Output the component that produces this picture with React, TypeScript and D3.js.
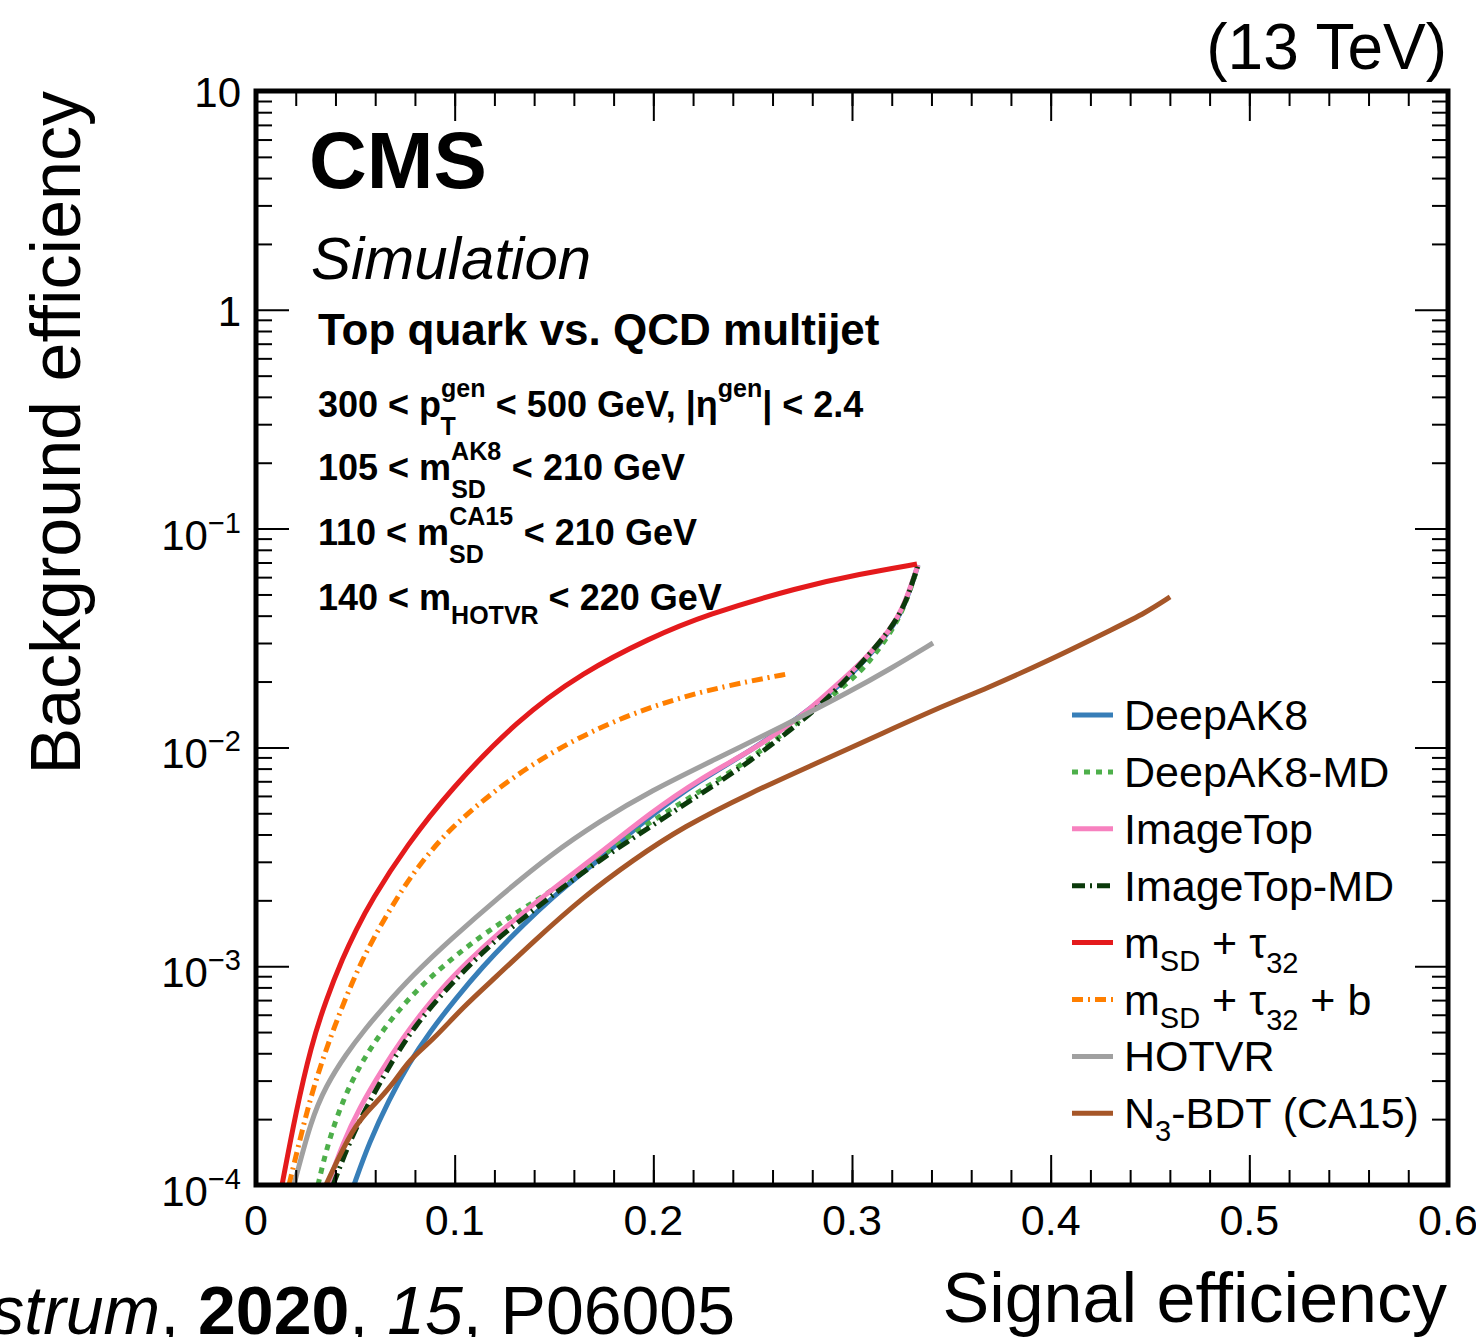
import React, { useRef, useEffect } from "react";
import * as d3 from "d3";

// ROC curves: [signal efficiency, background efficiency]
const deepAK8 = [
  [0.0493, 1.0e-4], [0.0569, 1.56e-4], [0.0669, 2.45e-4], [0.077, 3.61e-4], [0.0871, 4.95e-4],
  [0.1007, 7.15e-4], [0.1143, 1.0e-3], [0.1273, 1.33e-3], [0.1424, 1.81e-3], [0.156, 2.33e-3],
  [0.1732, 3.09e-3], [0.1983, 4.86e-3], [0.2235, 7.1e-3], [0.2487, 9.6e-3], [0.2738, 0.0138],
  [0.299, 0.0208], [0.3191, 0.0337], [0.3257, 0.0429], [0.3307, 0.0576], [0.3332, 0.0682],
];
const deepAK8MD = [
  [0.0312, 1.0e-4], [0.0362, 1.56e-4], [0.0438, 2.45e-4], [0.0518, 3.46e-4], [0.0604, 4.6e-4],
  [0.0705, 6.11e-4], [0.082, 7.95e-4], [0.0941, 1.0e-3], [0.1072, 1.25e-3], [0.1243, 1.61e-3],
  [0.148, 2.18e-3], [0.1732, 3.16e-3], [0.1983, 4.56e-3], [0.2235, 6.3e-3], [0.2487, 8.8e-3],
  [0.2738, 0.0133], [0.299, 0.0199], [0.3091, 0.0248], [0.3191, 0.033], [0.3257, 0.0425],
  [0.3307, 0.057], [0.3332, 0.0675],
];
const imageTop = [
  [0.0362, 1.0e-4], [0.0438, 1.56e-4], [0.0518, 2.23e-4], [0.0639, 3.42e-4], [0.074, 4.7e-4],
  [0.0841, 6.24e-4], [0.0941, 8.03e-4], [0.1057, 1.03e-3], [0.1208, 1.39e-3], [0.148, 2.21e-3],
  [0.1732, 3.29e-3], [0.1983, 5.01e-3], [0.2235, 7.2e-3], [0.2487, 9.6e-3], [0.2653, 0.0121],
  [0.2789, 0.015], [0.2904, 0.0186], [0.3075, 0.0257], [0.3191, 0.0344], [0.3257, 0.0434],
  [0.3307, 0.0582], [0.3332, 0.0682],
];
const imageTopMD = [
  [0.0388, 1.0e-4], [0.0468, 1.56e-4], [0.0574, 2.45e-4], [0.069, 3.73e-4], [0.0795, 5.27e-4],
  [0.0966, 8.03e-4], [0.1153, 1.19e-3], [0.1268, 1.46e-3], [0.148, 2.07e-3], [0.1716, 3.0e-3],
  [0.1983, 4.33e-3], [0.2235, 6.1e-3], [0.2487, 8.6e-3], [0.2738, 0.013], [0.2904, 0.0175],
  [0.3156, 0.031], [0.3257, 0.0425], [0.3307, 0.0576], [0.3332, 0.0682],
];
const msdTau32 = [
  [0.0131, 1.0e-4], [0.0201, 2.16e-4], [0.0277, 4.32e-4], [0.0352, 7.0e-4], [0.0438, 1.1e-3],
  [0.0503, 1.46e-3], [0.0579, 1.99e-3], [0.076, 3.58e-3], [0.0977, 6.39e-3], [0.1314, 0.01334],
  [0.1646, 0.0221], [0.1983, 0.0316], [0.226, 0.0403], [0.2738, 0.0541], [0.304, 0.062],
  [0.3327, 0.0689],
];
const msdTau32B = [
  [0.0166, 1.0e-4], [0.0252, 2.11e-4], [0.0312, 3.25e-4], [0.0393, 5.27e-4], [0.0488, 8.65e-4],
  [0.0579, 1.29e-3], [0.072, 2.14e-3], [0.0825, 2.93e-3], [0.0977, 4.28e-3], [0.1228, 6.66e-3],
  [0.148, 9.43e-3], [0.1732, 0.01239], [0.1983, 0.01529], [0.2235, 0.01791], [0.2487, 0.02011],
  [0.2673, 0.02165],
];
const hotvr = [
  [0.0191, 1.0e-4], [0.0277, 1.98e-4], [0.0352, 2.84e-4], [0.0453, 3.97e-4], [0.0554, 5.22e-4],
  [0.0639, 6.44e-4], [0.079, 9.12e-4], [0.0977, 1.32e-3], [0.1228, 2.09e-3], [0.148, 3.22e-3],
  [0.1732, 4.61e-3], [0.1983, 6.3e-3], [0.232, 8.9e-3], [0.2653, 0.0125], [0.299, 0.018],
  [0.3191, 0.0228], [0.3408, 0.03],
];
const n3bdt = [
  [0.0352, 1.0e-4], [0.0403, 1.26e-4], [0.0503, 1.92e-4], [0.0604, 2.37e-4], [0.0705, 3.02e-4],
  [0.077, 3.73e-4], [0.0891, 4.6e-4], [0.1042, 6.51e-4], [0.1208, 8.93e-4], [0.1394, 1.29e-3],
  [0.1646, 2.07e-3], [0.1898, 3.06e-3], [0.2149, 4.33e-3], [0.2487, 6.19e-3], [0.2824, 8.49e-3],
  [0.3156, 0.01164], [0.3493, 0.01596], [0.3659, 0.01829], [0.3997, 0.0251], [0.4334, 0.0355],
  [0.4475, 0.0411], [0.4601, 0.0487],
];

const seriesData = [deepAK8, deepAK8MD, imageTop, imageTopMD, msdTau32, msdTau32B, hotvr, n3bdt];

// legend labels: [text, subscript?]
const legendLabels: [string, boolean][][] = [
  [["DeepAK8", false]],
  [["DeepAK8-MD", false]],
  [["ImageTop", false]],
  [["ImageTop-MD", false]],
  [["m", false], ["SD", true], [" + τ", false], ["32", true]],
  [["m", false], ["SD", true], [" + τ", false], ["32", true], [" + b", false]],
  [["HOTVR", false]],
  [["N", false], ["3", true], ["-BDT (CA15)", false]],
];

const lineColors = ["#377eb8", "#4daf4a", "#f781bf", "#0b3a0b", "#e41a1c", "#ff7f00", "#a0a0a0", "#a65628"];
const lineDashes = [null, "6,6", null, "13,5,2,5", null, "11,5,2,5", null, null];

const xMajorTicks = [0, 0.1, 0.2, 0.3, 0.4, 0.5, 0.6];
const xTickLabels = ["0", "0.1", "0.2", "0.3", "0.4", "0.5", "0.6"];
const yMajorTicks = [1e-4, 1e-3, 1e-2, 1e-1, 1, 10];
const yTickBase = ["10", "10", "10", "10", "1", "10"];
const yTickExp = ["−4", "−3", "−2", "−1", "", ""];

const FONT = "'Liberation Sans', Arial, Helvetica, sans-serif";

// parts: [text, dy, dx, fontSize]
const addRich = (parent, x, y, size, parts, weight = "normal") => {
  const t = parent.append("text")
    .attr("x", x).attr("y", y)
    .attr("font-size", size)
    .attr("font-weight", weight)
    .style("white-space", "pre");
  parts.forEach(([txt, dy, dx, fs]) => {
    const s = t.append("tspan").text(txt);
    if (dy) s.attr("dy", dy);
    if (dx) s.attr("dx", dx);
    if (fs) s.attr("font-size", fs);
  });
  return t;
};

const App = () => {
  const ref = useRef<SVGSVGElement>(null);

  useEffect(() => {
    const svg = d3.select(ref.current);
    svg.selectAll("*").remove();

    const x = d3.scaleLinear().domain([0, 0.6]).range([256, 1448]);
    const y = d3.scaleLog().domain([1e-4, 10]).range([1185, 91]);
    const [x0, x1] = x.range();
    const [y0, y1] = y.range();

    // curves
    const line = d3.line<number[]>()
      .x(d => x(d[0]))
      .y(d => y(d[1]))
      .curve(d3.curveBasis);

    svg.append("clipPath").attr("id", "plotClip")
      .append("rect").attr("x", x0).attr("y", y1).attr("width", x1 - x0).attr("height", y0 - y1);

    const curves = svg.append("g").attr("clip-path", "url(#plotClip)");
    seriesData.forEach((data, i) => {
      curves.append("path")
        .attr("d", line(data))
        .attr("fill", "none")
        .attr("stroke", lineColors[i])
        .attr("stroke-width", 5)
        .attr("stroke-linejoin", "round")
        .attr("stroke-dasharray", lineDashes[i]);
    });

    // ticks (inward on all four sides)
    const xMinor = d3.range(0, 31).map(k => k * 0.02);
    const yMinor = [];
    yMajorTicks.slice(0, -1).forEach(d => { for (let k = 2; k <= 9; k++) yMinor.push(d * k) });

    const tickAxis = (axis, tr) => {
      svg.append("g")
        .attr("transform", tr)
        .call(axis.tickFormat(() => ""))
        .call(g => g.select(".domain").remove())
        .call(g => g.selectAll("line").attr("stroke", "#000").attr("stroke-width", 2));
    };
    tickAxis(d3.axisTop(x).tickValues(xMinor).tickSize(15), `translate(0,${y0})`);
    tickAxis(d3.axisTop(x).tickValues(xMajorTicks).tickSize(30), `translate(0,${y0})`);
    tickAxis(d3.axisBottom(x).tickValues(xMinor).tickSize(15), `translate(0,${y1})`);
    tickAxis(d3.axisBottom(x).tickValues(xMajorTicks).tickSize(30), `translate(0,${y1})`);
    tickAxis(d3.axisRight(y).tickValues(yMinor).tickSize(16), `translate(${x0},0)`);
    tickAxis(d3.axisRight(y).tickValues(yMajorTicks).tickSize(33), `translate(${x0},0)`);
    tickAxis(d3.axisLeft(y).tickValues(yMinor).tickSize(16), `translate(${x1},0)`);
    tickAxis(d3.axisLeft(y).tickValues(yMajorTicks).tickSize(33), `translate(${x1},0)`);

    // frame
    svg.append("rect")
      .attr("x", x0).attr("y", y1).attr("width", x1 - x0).attr("height", y0 - y1)
      .attr("fill", "none").attr("stroke", "#000").attr("stroke-width", 5);

    // tick labels
    const labels = svg.append("g").attr("fill", "#000");
    xMajorTicks.forEach((v, i) => {
      labels.append("text")
        .attr("x", x(v)).attr("y", y0 + 50)
        .attr("text-anchor", "middle")
        .attr("font-size", 43)
        .text(xTickLabels[i]);
    });
    yMajorTicks.forEach((v, i) => {
      const t = labels.append("text").attr("x", 241).attr("text-anchor", "end").attr("font-size", 42);
      if (yTickExp[i]) {
        t.attr("y", y(v) + 21);
        t.append("tspan").text(yTickBase[i]);
        t.append("tspan").attr("dy", -17).attr("font-size", 29).text(yTickExp[i]);
      } else {
        t.attr("y", y(v) + 16).text(yTickBase[i]);
      }
    });

    // axis titles
    svg.append("text")
      .attr("transform", `translate(80,91) rotate(-90)`)
      .attr("text-anchor", "end")
      .attr("font-size", 70)
      .text("Background efficiency");
    svg.append("text")
      .attr("x", 1447).attr("y", 1322)
      .attr("text-anchor", "end")
      .attr("font-size", 70)
      .text("Signal efficiency");
    svg.append("text")
      .attr("x", 1447).attr("y", 69)
      .attr("text-anchor", "end")
      .attr("font-size", 64)
      .text("(13 TeV)");

    // CMS labels
    svg.append("text").attr("x", 309).attr("y", 188)
      .attr("font-size", 80).attr("font-weight", "bold").text("CMS");
    svg.append("text").attr("x", 311).attr("y", 279)
      .attr("font-size", 60).attr("font-style", "italic").text("Simulation");
    svg.append("text").attr("x", 318).attr("y", 345)
      .attr("font-size", 44).attr("font-weight", "bold").text("Top quark vs. QCD multijet");

    const info = svg.append("g");
    addRich(info, 318, 417, 36, [
      ["300 < p"], ["gen", -20, 0, 25], ["T", 38, -45, 25], [" < 500 GeV, |η", -18, 30],
      ["gen", -20, 0, 25], ["| < 2.4", 20],
    ], "bold");
    addRich(info, 318, 480, 36, [
      ["105 < m"], ["AK8", -20, 0, 25], ["SD", 38, -50, 25], [" < 210 GeV", -18, 16],
    ], "bold");
    addRich(info, 318, 545, 36, [
      ["110 < m"], ["CA15", -20, 0, 25], ["SD", 38, -64, 25], [" < 210 GeV", -18, 30],
    ], "bold");
    addRich(info, 318, 610, 36, [
      ["140 < m"], ["HOTVR", 14, 0, 25], [" < 220 GeV", -14],
    ], "bold");

    // legend
    const legend = svg.append("g");
    legendLabels.forEach((parts, i) => {
      const cy = 715 + i * 56.9;
      legend.append("line")
        .attr("x1", 1072).attr("x2", 1113).attr("y1", cy).attr("y2", cy)
        .attr("stroke", lineColors[i]).attr("stroke-width", 5)
        .attr("stroke-dasharray", lineDashes[i]);
      let shifted = 0;
      const rich = parts.map(([txt, sub]) => {
        const dy = sub ? (txt === "32" ? 15 : 13) - shifted : -shifted;
        shifted = sub ? shifted + dy : 0;
        return [txt, dy, 0, sub ? 29 : 0];
      });
      addRich(legend, 1124, cy + 15, 43, rich);
    });

    // citation (left part runs off the page)
    const cite = svg.append("text")
      .attr("x", 735).attr("y", 1334)
      .attr("text-anchor", "end")
      .attr("font-size", 68)
      .style("white-space", "pre");
    cite.append("tspan").attr("font-style", "italic").text("J. Instrum");
    cite.append("tspan").text(", ");
    cite.append("tspan").attr("font-weight", "bold").text("2020");
    cite.append("tspan").text(", ");
    cite.append("tspan").attr("font-style", "italic").text("15");
    cite.append("tspan").text(", P06005");
  }, []);

  return (
    <svg
      ref={ref}
      width={1476}
      height={1337}
      style={{ position: "absolute", left: 0, top: 0, background: "#fff", fontFamily: FONT }}
    />
  );
};

export default App;
